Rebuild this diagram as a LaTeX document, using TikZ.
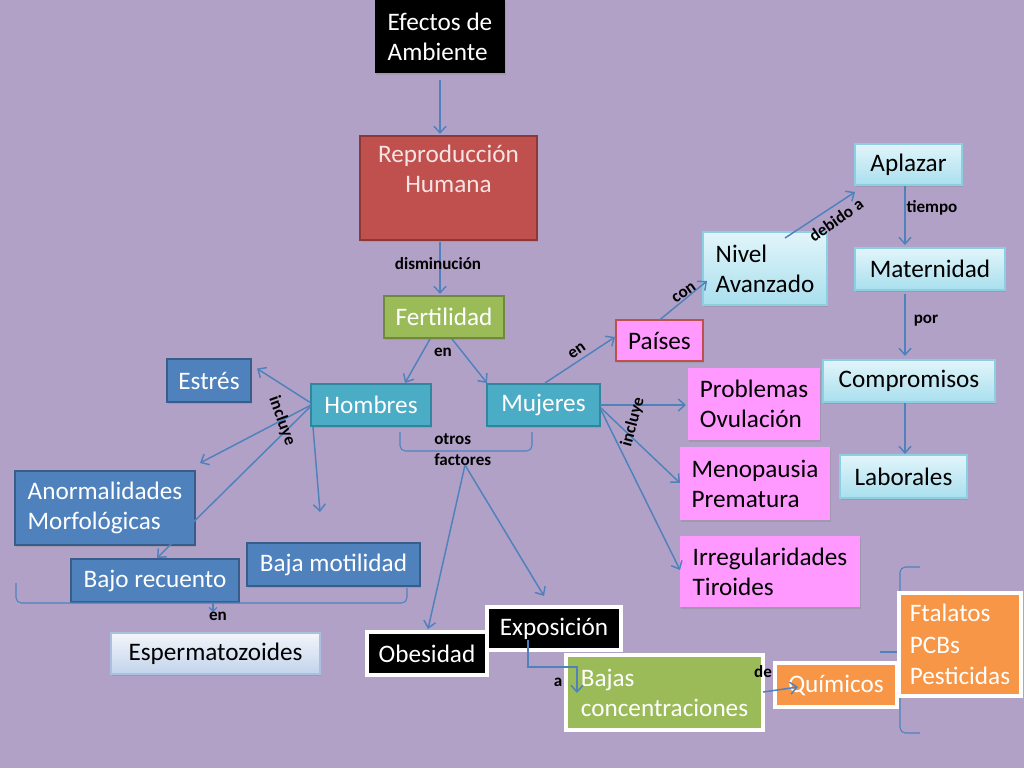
\documentclass[tikz,border=0pt]{standalone}
\usepackage{fontspec}
\setmainfont{Carlito}
\usetikzlibrary{arrows.meta,shadows,calc}
\definecolor{bgc}{HTML}{B2A1C7}
\definecolor{lnc}{HTML}{4F81BD}
\definecolor{redf}{HTML}{C0504D}
\definecolor{redd}{HTML}{8C3836}
\definecolor{redt}{HTML}{F6E4E3}
\definecolor{grnf}{HTML}{9BBB59}
\definecolor{grnd}{HTML}{71893F}
\definecolor{tealf}{HTML}{4BACC6}
\definecolor{teald}{HTML}{31859C}
\definecolor{bluf}{HTML}{4F81BD}
\definecolor{blud}{HTML}{385D8A}
\definecolor{pinkf}{HTML}{FF99FF}
\definecolor{ornf}{HTML}{F79646}
\definecolor{cyt}{HTML}{E2F5FA}
\definecolor{cyb}{HTML}{A9DFEE}
\definecolor{cyd}{HTML}{8DCFE2}
\definecolor{lbt}{HTML}{F3F6FB}
\definecolor{lbb}{HTML}{C2D3EB}
\definecolor{lbd}{HTML}{A9C0DF}
\tikzset{
  bx/.style n args={4}{minimum width={0.75pt*(#3-#1)}, minimum height={0.75pt*(#4-#2)},
    at={({(#1+#3)/2},{(#2+#4)/2})}},
  box/.style={inner sep=0pt, outer sep=0pt, align=center,
    font=\fontsize{18.9}{22.5}\selectfont,
    drop shadow={shadow xshift=1pt, shadow yshift=-1.5pt, opacity=0.3}},
  boxl/.style={box, align=left},
  blkbox/.style={fill=black, text=white},
  blkw/.style={fill=black, draw=white, line width=3pt, text=white},
  redbox/.style={fill=redf, draw=redd, line width=1.5pt, text=redt},
  grnbox/.style={fill=grnf, draw=grnd, line width=1.5pt, text=white},
  grnw/.style={fill=grnf, draw=white, line width=3pt, text=white},
  tealbox/.style={fill=tealf, draw=teald, line width=1.5pt, text=white},
  blubox/.style={fill=bluf, draw=blud, line width=1.5pt, text=white},
  lbbox/.style={top color=lbt, bottom color=lbb, draw=lbd, line width=1pt, text=black},
  cybox/.style={top color=cyt, bottom color=cyb, draw=cyd, line width=1pt, text=black},
  pinkbox/.style={fill=pinkf, text=black},
  pinkr/.style={fill=pinkf, draw=redf, line width=1pt, text=black},
  ornw/.style={fill=ornf, draw=white, line width=3pt, text=white},
  arr/.style={draw=lnc, line width=1.1pt, -{Straight Barb[length=5pt,width=9pt]}},
  brk/.style={draw=lnc, line width=0.8pt, rounded corners=4pt},
  lbl/.style={font=\bfseries\fontsize{12.8}{15.75}\selectfont, text=black, inner sep=0pt}
}
\begin{document}
\begin{tikzpicture}[x=0.75pt,y=-0.75pt]
\fill[bgc] (0,0) rectangle (1024,768);
\useasboundingbox (0,0) rectangle (1024,768);

% brackets drawn behind boxes
\draw[brk] (920,567) -- (900,567) -- (900,733) -- (920,733);
\draw[brk] (900,652) -- (880,652);

% nodes
\node[boxl, blkbox, bx={375}{0}{505}{73}] (efectos) {Efectos de\\Ambiente};
\node[box, redbox, bx={360}{136}{537}{240}] (repro) {Reproducción\\Humana\\\strut};
\node[box, grnbox, bx={384}{296}{504}{338}] (fert) {Fertilidad};
\node[box, tealbox, bx={311}{384}{431}{426}] (hombres) {Hombres};
\node[box, tealbox, bx={487}{384}{600}{426}] (mujeres) {Mujeres};
\node[box, blubox, bx={167}{359}{251}{402}] (estres) {Estrés};
\node[boxl, blubox, bx={15}{471}{195}{545}] (anorm) {Anormalidades\\Morfológicas};
\node[box, blubox, bx={71}{559}{239}{602}] (bajorec) {Bajo recuento};
\node[box, blubox, bx={247}{543}{420}{586}] (bajamot) {Baja motilidad};
\node[box, lbbox, bx={111}{633}{320}{674}] (esperm) {Espermatozoides};
\node[box, blkw, bx={367}{632}{487}{675}] (obes) {Obesidad};
\node[box, blkw, bx={487}{607}{621}{650}] (expo) {Exposición};
\node[boxl, grnw, bx={566}{655}{763}{730}] (bajas) {Bajas\\concentraciones};
\node[box, ornw, bx={775}{663}{897}{707}] (quim) {Químicos};
\node[boxl, ornw, bx={899}{593}{1021}{696}, font=\fontsize{18.9}{23.5}\selectfont] (ftal) {Ftalatos\\PCBs\\Pesticidas};
\node[box, pinkr, bx={616}{320}{703}{361}] (paises) {Países};
\node[boxl, cybox, bx={703}{232}{827}{305}] (nivel) {Nivel\\Avanzado};
\node[box, cybox, bx={855}{144}{962}{185}] (aplazar) {Aplazar};
\node[box, cybox, bx={855}{248}{1005}{290}] (mat) {Maternidad};
\node[box, cybox, bx={823}{360}{995}{402}] (comp) {Compromisos};
\node[box, cybox, bx={840}{455}{967}{498}] (lab) {Laborales};
\node[boxl, pinkbox, bx={688}{368}{820}{440}] (prob) {Problemas\\Ovulación};
\node[boxl, pinkbox, bx={680}{447}{830}{520}] (meno) {Menopausia\\Prematura};
\node[boxl, pinkbox, bx={680}{536}{860}{607}] (irreg) {Irregularidades\\Tiroides};

% connectors
\draw[arr] ($(efectos.south)+(0,7)$) -- ($(efectos.south |- repro.north)+(0,-2)$);
\draw[arr] ($(repro.south)+(-8.5,2)$) -- ($(fert.north)+(-4,-2)$);
\node[lbl] (l1) at (438,264) {disminución};

\draw[arr] ($(fert.south)+(-14,1)$) -- ($(hombres.north)+(34,-1)$);
\draw[arr] ($(fert.south)+(8,1)$) -- ($(mujeres.north west)+(0,-1)$);
\node[lbl] (l2) at (443,352) {en};

\draw[arr] ($(hombres.west)+(0,-2)$) -- ($(estres.east)+(6,-12)$);
\draw[arr] (hombres.west) -- ($(anorm.north east)+(5,-8)$);
\draw[arr] ($(hombres.west)+(0,1)$) -- ($(bajorec.north)+(2,-1)$);
\draw[arr] ($(hombres.south west)+(2,1)$) -- ($(bajamot.north)+(-13.5,-31)$);
\node[lbl, rotate=-70] (l3) at (282,421) {incluye};

\draw[brk] (16,583) -- (16,603) -- (407,603) -- (407,588);
\coordinate (bm) at (213,603);
\draw[arr, -{Straight Barb[length=3pt,width=6pt]}, line width=0.8pt] (bm) -- ++(0,9);
\node[lbl] (l4) at (218,616) {en};

\draw[brk] (400,432) -- (400,451) -- (532,451) -- (532,432);
\node[lbl, align=left, anchor=west] (l5) at (434,450) {otros\\factores};
\coordinate (of) at (465,465);
\draw[arr] (of) -- ($(obes.north)+(1,-3)$);
\draw[arr] (of) -- ($(expo.north)+(-10,-11)$);

\draw[arr] ($(mujeres.north)+(1.5,-1)$) -- ($(paises.west)+(-1,-3.5)$);
\node[lbl, rotate=35] (l6) at (577,351) {en};
\draw[arr] (mujeres.east) -- ($(prob.west)+(-2,1)$);
\draw[arr] ($(mujeres.east)+(1,3)$) -- ($(meno.west)+(0,-0.5)$);
\draw[arr] ($(mujeres.east)+(1,5)$) -- ($(irreg.west)+(0,-1.5)$);
\node[lbl, rotate=75] (l7) at (633,422) {incluye};

\draw[arr] (paises.north) -- ($(nivel.west)+(4,12.5)$);
\node[lbl, rotate=35] (l8) at (684,293) {con};
\draw[arr] ($(nivel.north)+(20,6)$) -- ($(aplazar.south west)+(0,7)$);
\node[lbl, rotate=35] (l9) at (836,220) {debido a};

\draw[arr] ($(aplazar.south)+(-3.5,1)$) -- ($(aplazar.south |- mat.north)+(-3.5,-3)$);
\node[lbl] (l10) at (932,208) {tiempo};
\draw[arr] ($(mat.south)+(-25,4)$) -- ($(mat.south |- comp.north)+(-25,-4)$);
\node[lbl] (l11) at (926,321) {por};
\draw[arr] ($(comp.south)+(-4,1)$) -- ($(comp.south |- lab.north)+(-4,-1)$);

\draw[arr] ($(expo.south west)+(41,-10)$) |- ($(bajas.north west)+(11,12)$) -- ($(bajas.north west)+(11,38)$);
\node[lbl] (l12) at (558,682) {a};
\draw[arr] ($(bajas.east)+(0,-0.5)$) -- ($(quim.west)+(23,2)$);
\node[lbl] (l13) at (763,672) {de};
\end{tikzpicture}
\end{document}
